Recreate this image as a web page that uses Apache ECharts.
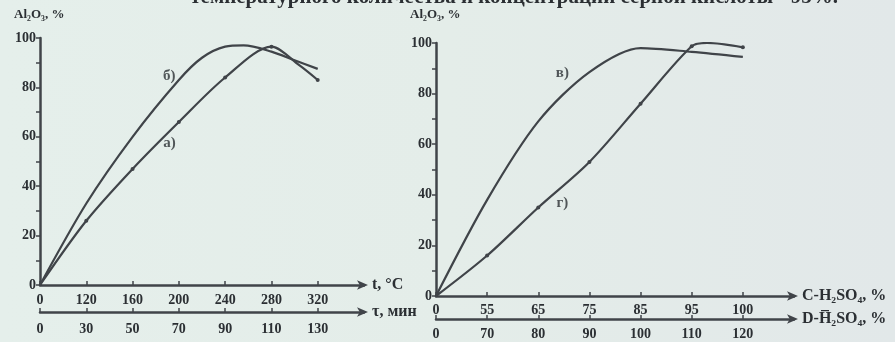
<!DOCTYPE html>
<html><head><meta charset="utf-8">
<script src="https://cdn.jsdelivr.net/npm/echarts@6/dist/echarts.min.js"></script>
<style>html,body{margin:0;padding:0;}#c{width:895px;height:342px;}</style>
</head><body><div id="c"></div>
<script>
// Tick labels (positions are evenly spaced tick indices 0..6)
const leftTempTicks = ['0','120','160','200','240','280','320'];
const leftTimeTicks = ['0','30','50','70','90','110','130'];
const rightCTicks   = ['0','55','65','75','85','95','100'];
const rightDTicks   = ['0','70','80','90','100','110','120'];
const yTicks = [0,20,40,60,80,100];

// Curves: [tick-index position, Al2O3 %]
const curveA = [[0,0],[1,26],[2,47],[3,66],[4,84],[5,96.5],[5.6,89],[6,83]];
const curveB = [[0,0],[1,33],[2,60],[3,83],[3.5,92],[4,96.5],[4.4,97],[5,94.5],[5.5,91],[6,87.5]];
const curveV = [[0,0],[1,38],[2,69],[3,88.5],[4,98],[5,96.5],[6,94.5]];
const curveG = [[0,0],[1,16],[2,35],[3,53],[4,76],[5,98.7],[5.3,100],[6,98.3]];
const markersA = [1,2,3,4,5,6];
const markersG = [1,2,3,4,5,6];
const curveLabels = [
  {grid:0, text:'а)', pos:[2.8,57.5]},
  {grid:0, text:'б)', pos:[2.79,84.6]},
  {grid:1, text:'в)', pos:[2.47,88]},
  {grid:1, text:'г)', pos:[2.47,36.8]}
];

const INK = '#2b2f33';
const LINE = '#404449';
const FONT = 'Liberation Serif';
const txt = {color: INK, fontFamily: FONT, fontWeight: 'bold', fontSize: 14};

function xAx(gridIndex, ticks, offset, name, margin) {
  return {
    type: 'value', gridIndex, min: 0, max: 7, interval: 1, position: 'bottom', offset,
    name, nameLocation: 'end', nameGap: 8,
    nameTextStyle: Object.assign({}, txt, {fontSize: 16, verticalAlign: 'middle'}),
    axisLine: {show: true, lineStyle: {color: LINE, width: 2.5}, symbol: ['none','arrow'], symbolSize: [7, 11], symbolOffset: [0, 4]},
    axisTick: {show: true, inside: true, length: 4, lineStyle: {color: LINE, width: 1.5}, customValues: [0,1,2,3,4,5,6]},
    axisLabel: Object.assign({}, txt, {margin, customValues: [0,1,2,3,4,5,6], formatter: v => ticks[Math.round(v)] ?? ''}),
    splitLine: {show: false}
  };
}
function yAx(gridIndex) {
  return {
    type: 'value', gridIndex, min: 0, max: 100, interval: 20,
    axisLine: {show: true, lineStyle: {color: LINE, width: 2.5}},
    axisTick: {show: true, length: 4, lineStyle: {color: LINE, width: 1.5}},
    minorTick: {show: true, splitNumber: 2, length: 4, lineStyle: {color: LINE, width: 1.5}},
    axisLabel: Object.assign({}, txt, {margin: 4, customValues: yTicks}),
    splitLine: {show: false}, minorSplitLine: {show: false}
  };
}
function curve(data, xi, yi, markers) {
  return {
    type: 'line', xAxisIndex: xi, yAxisIndex: yi, data, smooth: 0.3,
    symbol: 'circle', symbolSize: (v) => (markers && markers.includes(v[0])) ? 4 : 0,
    showSymbol: true, itemStyle: {color: LINE},
    lineStyle: {color: LINE, width: 2.2}, silent: true, z: 3
  };
}

const chart = echarts.init(document.getElementById('c'));
const labelSeries = curveLabels.map(l => ({
  type: 'scatter', xAxisIndex: l.grid * 2, yAxisIndex: l.grid, symbolSize: 0,
  data: [l.pos], silent: true,
  label: Object.assign({show: true, position: 'inside', formatter: l.text}, txt, {fontSize: 15})
}));

chart.setOption({
  backgroundColor: {type: 'linear', x: 0, y: 0, x2: 1, y2: 0, colorStops: [
    {offset: 0, color: '#e5efeb'}, {offset: 0.5, color: '#e4ede9'}, {offset: 1, color: '#e2e8e9'}]},
  animation: false,
  grid: [
    {left: 40, top: 38, width: 324, height: 247},
    {left: 436, top: 43, width: 358, height: 253}
  ],
  xAxis: [
    xAx(0, leftTempTicks, 0, 't, °C', 8),
    xAx(0, leftTimeTicks, 27, 'τ, мин', 10),
    xAx(1, rightCTicks, 0, 'C-H₂SO₄, %', 7),
    xAx(1, rightDTicks, 23, 'D-H̅₂SO₄, %', 8)
  ],
  yAxis: [yAx(0), yAx(1)],
  graphic: [
    {type: 'text', right: 57, top: -13, style: {text: 'температурного количества и концентрации серной кислоты - 95%.', fill: INK, font: 'bold 21px "Liberation Serif"'}},
    {type: 'text', left: 14, top: 8, style: {text: 'Al₂O₃, %', fill: INK, font: 'bold 13px "Liberation Serif"'}},
    {type: 'text', left: 410, top: 8, style: {text: 'Al₂O₃, %', fill: INK, font: 'bold 13px "Liberation Serif"'}}
  ],
  series: [
    curve(curveA, 0, 0, markersA),
    curve(curveB, 0, 0, null),
    curve(curveV, 2, 1, null),
    curve(curveG, 2, 1, markersG)
  ].concat(labelSeries)
});
</script>
</body></html>
